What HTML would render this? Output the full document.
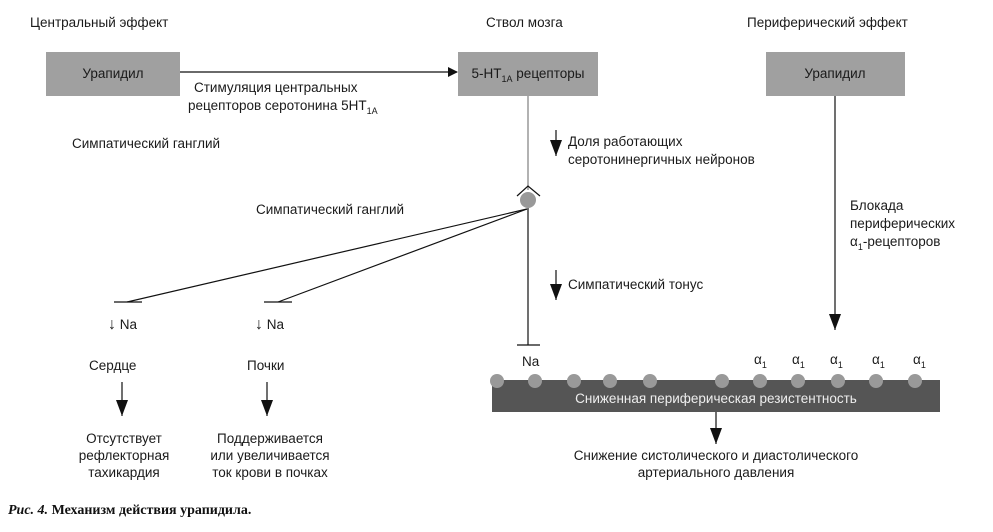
<!DOCTYPE html>
<html><head><meta charset="utf-8"><style>
body{margin:0;background:#fff;}
svg text{font-family:"Liberation Sans",sans-serif;font-size:13.5px;fill:#1a1a1a;}
</style></head><body>
<svg width="993" height="527" viewBox="0 0 993 527" xmlns="http://www.w3.org/2000/svg">
<defs><marker id="a" markerWidth="10" markerHeight="10" refX="9" refY="5" orient="auto" markerUnits="userSpaceOnUse"><path d="M0,0 L10,5 L0,10 z" fill="#111"/></marker>
<marker id="b" markerWidth="12" markerHeight="16" refX="6" refY="16" orient="0" markerUnits="userSpaceOnUse"><path d="M0,0 L12,0 L6,16 z" fill="#111"/></marker></defs>
<text x="30" y="27">Центральный эффект</text>
<text x="486" y="27">Ствол мозга</text>
<text x="747" y="27">Периферический эффект</text>
<rect x="46" y="52" width="134" height="44" fill="#a0a0a0"/>
<text x="113" y="78" text-anchor="middle">Урапидил</text>
<rect x="458" y="52" width="140" height="44" fill="#a0a0a0"/>
<text x="528" y="78" text-anchor="middle">5-HT<tspan font-size="9" dy="4">1A</tspan><tspan dy="-4"> рецепторы</tspan></text>
<rect x="766" y="52" width="139" height="44" fill="#a0a0a0"/>
<text x="835" y="78" text-anchor="middle">Урапидил</text>
<line x1="180" y1="72" x2="457" y2="72" stroke="#111" stroke-width="1.2" marker-end="url(#a)"/>
<text x="194" y="92">Стимуляция центральных</text>
<text x="188" y="110">рецепторов серотонина 5HT<tspan font-size="9" dy="4">1A</tspan></text>
<text x="72" y="148">Симпатический ганглий</text>
<line x1="528" y1="96" x2="528" y2="190" stroke="#999" stroke-width="1.5"/>
<polyline points="517,196 528,186 540,196" fill="none" stroke="#111" stroke-width="1.2"/>
<circle cx="528" cy="200" r="8" fill="#999"/>
<line x1="528" y1="208" x2="528" y2="345" stroke="#111" stroke-width="1.2"/>
<line x1="517" y1="345" x2="540" y2="345" stroke="#111" stroke-width="1.2"/>
<line x1="556" y1="130" x2="556" y2="156" stroke="#111" stroke-width="1.2" marker-end="url(#b)"/>
<text x="568" y="146">Доля работающих</text>
<text x="568" y="164">серотонинергичных нейронов</text>
<text x="256" y="214">Симпатический ганглий</text>
<line x1="527" y1="209" x2="127" y2="302" stroke="#111" stroke-width="1.2"/>
<line x1="527" y1="209" x2="278" y2="302" stroke="#111" stroke-width="1.2"/>
<line x1="114" y1="302" x2="142" y2="302" stroke="#111" stroke-width="1.2"/>
<line x1="264" y1="302" x2="292" y2="302" stroke="#111" stroke-width="1.2"/>
<line x1="556" y1="270" x2="556" y2="300" stroke="#111" stroke-width="1.2" marker-end="url(#b)"/>
<text x="568" y="289">Симпатический тонус</text>
<text x="108" y="329"><tspan font-size="16">↓</tspan> Na</text>
<text x="255" y="329"><tspan font-size="16">↓</tspan> Na</text>
<text x="89" y="370">Сердце</text>
<text x="247" y="370">Почки</text>
<line x1="122" y1="382" x2="122" y2="416" stroke="#111" stroke-width="1.2" marker-end="url(#b)"/>
<line x1="267" y1="382" x2="267" y2="416" stroke="#111" stroke-width="1.2" marker-end="url(#b)"/>
<text x="124" y="443" text-anchor="middle">Отсутствует</text>
<text x="124" y="460" text-anchor="middle">рефлекторная</text>
<text x="124" y="477" text-anchor="middle">тахикардия</text>
<text x="270" y="443" text-anchor="middle">Поддерживается</text>
<text x="270" y="460" text-anchor="middle">или увеличивается</text>
<text x="270" y="477" text-anchor="middle">ток крови в почках</text>
<text x="850" y="210">Блокада</text>
<text x="850" y="228">периферических</text>
<text x="850" y="246">α<tspan font-size="9" dy="4">1</tspan><tspan dy="-4">-рецепторов</tspan></text>
<line x1="835" y1="96" x2="835" y2="330" stroke="#111" stroke-width="1.2" marker-end="url(#b)"/>
<text x="522" y="366">Na</text>
<g><text x="754" y="364">α<tspan font-size="9" dy="4">1</tspan></text>
<text x="792" y="364">α<tspan font-size="9" dy="4">1</tspan></text>
<text x="830" y="364">α<tspan font-size="9" dy="4">1</tspan></text>
<text x="872" y="364">α<tspan font-size="9" dy="4">1</tspan></text>
<text x="913" y="364">α<tspan font-size="9" dy="4">1</tspan></text></g>
<rect x="492" y="380" width="448" height="32" fill="#555"/>
<g fill="#999">
<circle cx="497" cy="381" r="7"/><circle cx="535" cy="381" r="7"/><circle cx="574" cy="381" r="7"/><circle cx="610" cy="381" r="7"/><circle cx="650" cy="381" r="7"/><circle cx="722" cy="381" r="7"/><circle cx="760" cy="381" r="7"/><circle cx="798" cy="381" r="7"/><circle cx="838" cy="381" r="7"/><circle cx="876" cy="381" r="7"/><circle cx="915" cy="381" r="7"/></g>
<text x="716" y="403" text-anchor="middle" style="fill:#eee">Сниженная периферическая резистентность</text>
<line x1="716" y1="412" x2="716" y2="444" stroke="#111" stroke-width="1.2" marker-end="url(#b)"/>
<text x="716" y="460" text-anchor="middle">Снижение систолического и диастолического</text>
<text x="716" y="477" text-anchor="middle">артериального давления</text>
<text x="8" y="514" style="font-family:'Liberation Serif',serif;font-weight:bold;font-size:14px;fill:#111"><tspan font-style="italic">Рис. 4.</tspan> Механизм действия урапидила.</text>
</svg>
</body></html>
